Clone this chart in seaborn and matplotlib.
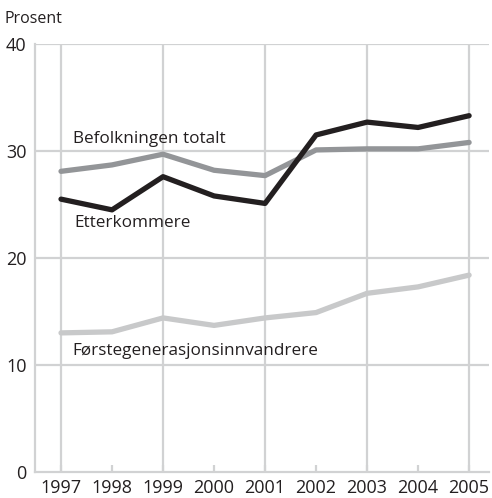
import matplotlib
matplotlib.use("Agg")
import matplotlib.pyplot as plt
import seaborn as sns
import pandas as pd

years = [1997, 1998, 1999, 2000, 2001, 2002, 2003, 2004, 2005]
befolkningen = [28.1, 28.7, 29.7, 28.2, 27.7, 30.1, 30.2, 30.2, 30.8]
etterkommere = [25.5, 24.5, 27.6, 25.8, 25.1, 31.5, 32.7, 32.2, 33.3]
forstegen = [13.0, 13.1, 14.4, 13.7, 14.4, 14.9, 16.7, 17.3, 18.4]
series_names = ["Befolkningen totalt", "Etterkommere", "Førstegenerasjonsinnvandrere"]
colors = ["#939598", "#231f20", "#c8c9ca"]
yticks = [0, 10, 20, 30, 40]

sns.set_theme(style="white")
plt.rcParams['font.family'] = ['Open Sans', 'DejaVu Sans']

rows = []
for name, vals in zip(series_names, [befolkningen, etterkommere, forstegen]):
    for y, v in zip(years, vals):
        rows.append({"year": y, "value": v, "serie": name})
df = pd.DataFrame(rows)

fig = plt.figure(figsize=(4.92, 4.98), dpi=100)
ax = fig.add_axes([35/492, 26/498, 454/492, 428/498])

grid_c = "#d1d2d3"
for yv in yticks[1:]:
    ax.axhline(yv, color=grid_c, lw=1.6, zorder=0)
for xv in years[::2]:
    ax.axvline(xv, color=grid_c, lw=1.6, zorder=0)

sns.lineplot(data=df, x="year", y="value", hue="serie", hue_order=series_names,
             palette=dict(zip(series_names, colors)), linewidth=3.8, legend=False,
             ax=ax, zorder=3)

ax.set_xlim(1996.49, 2005.39)
ax.set_ylim(0, 40)
ax.set_xticks(years)
ax.set_xticklabels([str(y) for y in years])
ax.set_yticks(yticks)
ax.set_xlabel("")
ax.set_ylabel("")
for s in ["top", "right"]:
    ax.spines[s].set_visible(False)
for s in ["left", "bottom"]:
    ax.spines[s].set_color(grid_c)
    ax.spines[s].set_linewidth(1.6)
ax.tick_params(axis="x", direction="in", length=5, width=1.6, color=grid_c, labelsize=13,
               labelcolor="#231f20", pad=5, bottom=True)
ax.tick_params(axis="y", length=0, labelsize=13, labelcolor="#231f20", pad=6)

tc = "#231f20"
ax.text(1997.23, 31.1, "Befolkningen totalt", fontsize=12.3, color=tc, va="center", ha="left")
ax.text(1997.27, 23.3, "Etterkommere", fontsize=12.3, color=tc, va="center", ha="left")
ax.text(1997.23, 11.3, "Førstegenerasjonsinnvandrere", fontsize=12.3, color=tc, va="center", ha="left")
fig.text(5/492, 1 - 19/498, "Prosent", fontsize=11.5, color=tc, va="center", ha="left")

fig.savefig("out.png", dpi=100)
